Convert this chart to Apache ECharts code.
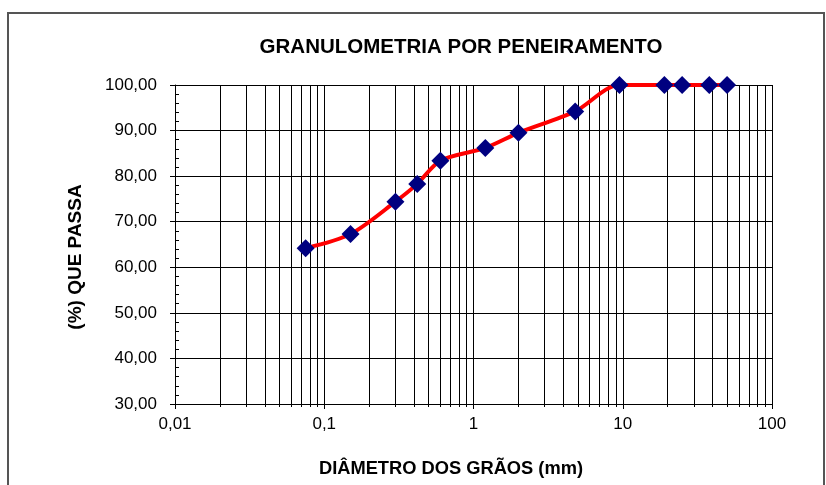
<!DOCTYPE html>
<html>
<head>
<meta charset="utf-8">
<script src="https://cdn.jsdelivr.net/npm/echarts@6/dist/echarts.min.js"></script>
<style>
html,body{margin:0;padding:0;background:#fff;}
#chart{width:826px;height:485px;}
</style>
</head>
<body>
<div id="chart"></div>
<script>
// Sieve openings (mm) and percent passing
var diameters = [0.075, 0.15, 0.3, 0.42, 0.6, 1.2, 2.0, 4.8, 9.5, 19, 25, 38, 50];
var percentPassing = [64.2, 67.3, 74.4, 78.3, 83.4, 86.2, 89.5, 94.2, 100, 100, 100, 100, 100];

var xTickValues = [0.01, 0.1, 1, 10, 100];
var xTickLabels = ['0,01', '0,1', '1', '10', '100'];
var xMinorValues = [0.02, 0.03, 0.04, 0.05, 0.06, 0.07, 0.08, 0.09,
                    0.2, 0.3, 0.4, 0.5, 0.6, 0.7, 0.8, 0.9,
                    2, 3, 4, 5, 6, 7, 8, 9,
                    20, 30, 40, 50, 60, 70, 80, 90];
var yTickValues = [30, 40, 50, 60, 70, 80, 90, 100];
var yTickLabels = ['30,00', '40,00', '50,00', '60,00', '70,00', '80,00', '90,00', '100,00'];

var titleText = 'GRANULOMETRIA POR PENEIRAMENTO';
var xAxisTitle = 'DIÂMETRO DOS GRÃOS (mm)';
var yAxisTitle = '(%) QUE PASSA';

function lookup(vals, labels, v) {
  for (var i = 0; i < vals.length; i++) {
    if (Math.abs(vals[i] - v) < 1e-9 * Math.max(1, Math.abs(v))) return labels[i];
  }
  return '';
}

var seriesData = diameters.map(function (d, i) { return [d, percentPassing[i]]; });

var FONT = "'Liberation Sans', Arial, sans-serif";

var chart = echarts.init(document.getElementById('chart'), null, {renderer: 'canvas'});
chart.setOption({
  animation: false,
  backgroundColor: '#ffffff',
  grid: {left: 175, right: 54, top: 85, bottom: 81, containLabel: false},
  xAxis: [{
    type: 'log',
    logBase: 10,
    min: 0.01,
    max: 100,
    position: 'bottom',
    axisLine: {show: true, onZero: false, lineStyle: {color: '#000', width: 1}},
    axisTick: {show: true, inside: false, length: 5, lineStyle: {color: '#000'}},
    axisLabel: {
      show: true, margin: 12, color: '#000', fontSize: 17, fontFamily: FONT,
      formatter: function (v) { return lookup(xTickValues, xTickLabels, v); }
    },
    splitLine: {show: true, lineStyle: {color: '#000', width: 1}}
  }, {
    type: 'log',
    logBase: 10,
    min: 0.01,
    max: 100,
    position: 'bottom',
    offset: 0,
    axisLine: {show: false},
    axisTick: {show: true, inside: false, length: 3, customValues: xMinorValues, lineStyle: {color: '#000'}},
    axisLabel: {show: false},
    splitLine: {show: true, lineStyle: {color: '#000', width: 1}}
  }],
  yAxis: [{
    type: 'value',
    min: 30,
    max: 100,
    interval: 10,
    axisLine: {show: true, onZero: false, lineStyle: {color: '#000', width: 1}},
    axisTick: {show: true, inside: false, length: 5, lineStyle: {color: '#000'}},
    axisLabel: {
      show: true, margin: 18, color: '#000', fontSize: 17, fontFamily: FONT,
      formatter: function (v) { return lookup(yTickValues, yTickLabels, v); }
    },
    splitLine: {show: true, lineStyle: {color: '#000', width: 1}}
  }, {
    type: 'value',
    min: 30,
    max: 100,
    interval: 2,
    position: 'left',
    offset: 0,
    axisLine: {show: false},
    axisTick: {show: true, inside: true, length: 4, lineStyle: {color: '#000'}},
    axisLabel: {show: false},
    splitLine: {show: false}
  }],
  series: [{
    type: 'line',
    xAxisIndex: 0,
    yAxisIndex: 0,
    data: seriesData,
    smooth: 0.3,
    clip: false,
    lineStyle: {color: '#ff0000', width: 4},
    symbol: 'diamond',
    symbolSize: 18,
    itemStyle: {color: '#000080', borderColor: '#000080', borderWidth: 0},
    z: 5
  }],
  graphic: [
    {type: 'rect', silent: true, shape: {x: 8, y: 13, width: 816, height: 520},
     style: {fill: 'none', stroke: '#555', lineWidth: 2}},
    {type: 'text', x: 461, y: 47, silent: true,
     style: {text: titleText, font: 'bold 20.5px ' + FONT, fill: '#000', align: 'center', verticalAlign: 'middle'}},
    {type: 'text', x: 451, y: 469, silent: true,
     style: {text: xAxisTitle, font: 'bold 18.3px ' + FONT, fill: '#000', align: 'center', verticalAlign: 'middle'}},
    {type: 'text', x: 76, y: 257, rotation: Math.PI / 2, silent: true,
     style: {text: yAxisTitle, font: 'bold 19px ' + FONT, fill: '#000', align: 'center', verticalAlign: 'middle'}}
  ]
});
</script>
</body>
</html>
